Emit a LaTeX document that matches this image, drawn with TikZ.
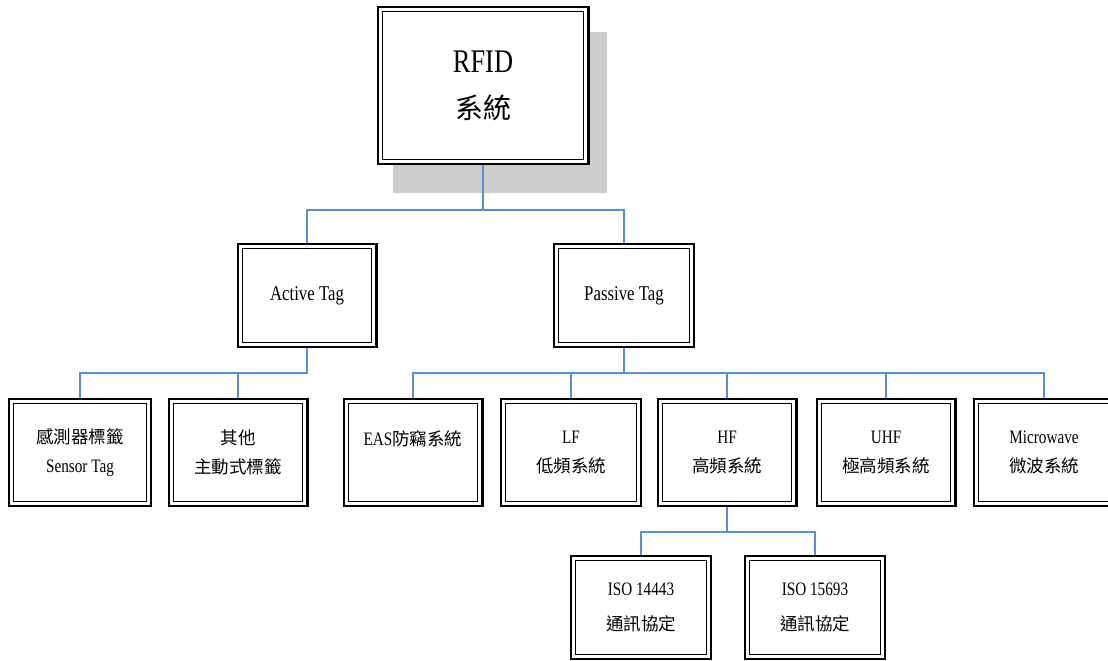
\documentclass[tikz,border=0pt]{standalone}
\usepackage{fontspec}
\setmainfont{Liberation Serif}[FakeStretch=0.8]
\newfontfamily\cjk{Noto Sans CJK TC}
\definecolor{connblue}{RGB}{91,141,213}
\definecolor{shadowgray}{RGB}{204,204,204}
\begin{document}
\begin{tikzpicture}[x=1pt,y=-1pt,
  tagbox/.style={draw=black, line width=2.4pt, fill=white, inner sep=0pt, align=center,
    path picture={\draw[line width=1.1pt,black]
      ([shift={(4.4pt,4.4pt)}]path picture bounding box.south west) rectangle
      ([shift={(-4.4pt,-4.4pt)}]path picture bounding box.north east);}},
  conn/.style={draw=connblue, line width=2pt},
  toptext/.style={font=\fontsize{33}{46}\selectfont},
  midtext/.style={font=\fontsize{21}{25}\selectfont},
  lowtext/.style={font=\fontsize{19}{29}\selectfont},
  isotext/.style={font=\fontsize{19}{35}\selectfont}
]
\useasboundingbox (0,0) rectangle (1108,661);
\fill[white] (0,0) rectangle (1108,661);
% shadow
\fill[shadowgray] (393,32) rectangle (607,193);
% top
\node[tagbox, toptext, minimum width=210.6pt, minimum height=156.6pt] (rfid) at (483,85.5)
  {RFID\\{\cjk\fontsize{28}{46}\selectfont 系統}};
% level 2
\node[tagbox, midtext, minimum width=138.6pt, minimum height=102.6pt] (active) at (307,295.5) {Active Tag};
\node[tagbox, midtext, minimum width=139.6pt, minimum height=102.6pt] (passive) at (624,295.5) {Passive Tag};
% level 3
\node[tagbox, lowtext, minimum width=141.6pt, minimum height=106.6pt] (sensor) at (80,452.5)
  {{\cjk\fontsize{17.5}{29}\selectfont 感測器標籤}\\Sensor Tag};
\node[tagbox, lowtext, minimum width=138.6pt, minimum height=106.6pt] (other) at (238,452.5)
  {{\cjk\fontsize{17.5}{29}\selectfont 其他}\\{\cjk\fontsize{17.5}{29}\selectfont 主動式標籤}};
\node[tagbox, lowtext, minimum width=138.6pt, minimum height=106.6pt] (eas) at (413,452.5)
  {EAS{\cjk\fontsize{17.5}{29}\selectfont 防竊系統}\\\mbox{}};
\node[tagbox, lowtext, minimum width=139.6pt, minimum height=106.6pt] (lf) at (571,452.5)
  {LF\\{\cjk\fontsize{17.5}{29}\selectfont 低頻系統}};
\node[tagbox, lowtext, minimum width=138.6pt, minimum height=106.6pt] (hf) at (727,452.5)
  {HF\\{\cjk\fontsize{17.5}{29}\selectfont 高頻系統}};
\node[tagbox, lowtext, minimum width=138.6pt, minimum height=106.6pt] (uhf) at (886,452.5)
  {UHF\\{\cjk\fontsize{17.5}{29}\selectfont 極高頻系統}};
\node[tagbox, lowtext, minimum width=139.6pt, minimum height=106.6pt] (mw) at (1044,452.5)
  {Microwave\\{\cjk\fontsize{17.5}{29}\selectfont 微波系統}};
% level 4
\node[tagbox, isotext, minimum width=139.6pt, minimum height=102.6pt] (iso1) at (641,607.5)
  {ISO 14443\\{\cjk\fontsize{17.5}{35}\selectfont 通訊協定}};
\node[tagbox, isotext, minimum width=139.6pt, minimum height=102.6pt] (iso2) at (815,607.5)
  {ISO 15693\\{\cjk\fontsize{17.5}{35}\selectfont 通訊協定}};
% bus coordinates
\coordinate (bus1) at (0,210);
\coordinate (busA) at (0,373);
\coordinate (busP) at (0,373);
\coordinate (busH) at (0,532);
% connectors
\draw[conn] (rfid.south) -- (rfid.south |- bus1) -| (active.north);
\draw[conn] (rfid.south |- bus1) -| (passive.north);
\draw[conn] (active.south) -- (active.south |- busA) -| (sensor.north);
\draw[conn] (active.south |- busA) -| (other.north);
\draw[conn] (passive.south) -- (passive.south |- busP) -| (eas.north);
\draw[conn] (passive.south |- busP) -| (lf.north);
\draw[conn] (passive.south |- busP) -| (hf.north);
\draw[conn] (passive.south |- busP) -| (uhf.north);
\draw[conn] (passive.south |- busP) -| (mw.north);
\draw[conn] (hf.south) -- (hf.south |- busH) -| (iso1.north);
\draw[conn] (hf.south |- busH) -| (iso2.north);
\end{tikzpicture}
\end{document}
